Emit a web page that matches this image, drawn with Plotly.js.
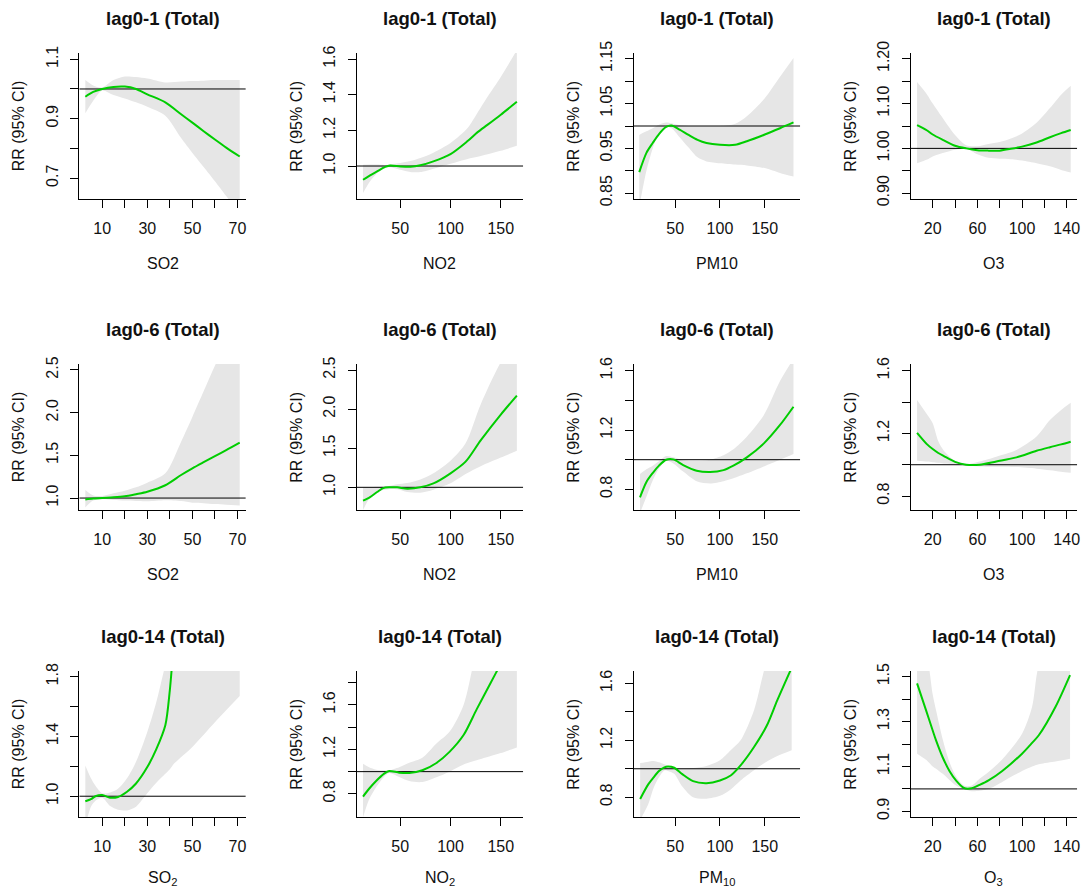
<!DOCTYPE html>
<html>
<head>
<meta charset="utf-8">
<script src="https://cdn.plot.ly/plotly-3.0.1.min.js"></script>
<style>
  html, body { margin: 0; padding: 0; background: #ffffff; }
  #chart { width: 1083px; height: 892px; }
</style>
</head>
<body>
<div id="chart"></div>
<script>
// Exposure-response curves (RR with 95% CI) by pollutant and cumulative lag.

// ---- lag0-1 ----
const so2_l1_x  = [2.5, 6, 10, 15, 20, 25, 30, 38, 45, 50, 55, 60, 65, 71];
const so2_l1_rr = [0.974, 0.990, 1.000, 1.007, 1.008, 1.000, 0.982, 0.955, 0.915, 0.887, 0.858, 0.830, 0.803, 0.773];
const so2_l1_hi = [1.030, 1.012, 1.005, 1.030, 1.042, 1.040, 1.035, 1.022, 1.025, 1.027, 1.028, 1.030, 1.030, 1.030];
const so2_l1_lo = [0.918, 0.960, 0.995, 0.980, 0.968, 0.955, 0.940, 0.910, 0.835, 0.785, 0.738, 0.690, 0.640, 0.580];

const no2_l1_x  = [13, 20, 27, 35, 40, 50, 60, 70, 83, 100, 117, 127, 137, 150, 166];
const no2_l1_rr = [0.923, 0.948, 0.970, 0.995, 1.003, 0.998, 0.996, 1.004, 1.026, 1.067, 1.140, 1.190, 1.232, 1.288, 1.360];
const no2_l1_hi = [1.007, 1.008, 1.008, 1.006, 1.010, 1.017, 1.028, 1.045, 1.075, 1.129, 1.213, 1.300, 1.390, 1.500, 1.650];
const no2_l1_lo = [0.849, 0.915, 0.960, 0.990, 0.993, 0.979, 0.967, 0.966, 0.985, 1.013, 1.040, 1.052, 1.066, 1.085, 1.114];

const pm_l1_x  = [10, 18, 25, 32, 40, 46, 55, 65, 75, 85, 100, 117, 130, 150, 167, 182];
const pm_l1_rr = [0.897, 0.940, 0.962, 0.982, 0.998, 1.001, 0.992, 0.980, 0.969, 0.962, 0.958, 0.958, 0.966, 0.981, 0.995, 1.008];
const pm_l1_hi = [0.980, 0.988, 0.995, 1.003, 1.008, 1.006, 1.002, 1.000, 1.000, 1.000, 1.000, 1.005, 1.022, 1.062, 1.110, 1.152];
const pm_l1_lo = [0.820, 0.900, 0.950, 0.985, 0.998, 0.995, 0.975, 0.952, 0.930, 0.921, 0.917, 0.914, 0.912, 0.906, 0.895, 0.887];

const o3_l1_x  = [6, 15, 20, 30, 40, 50, 60, 70, 80, 90, 100, 113, 125, 135, 143.6];
const o3_l1_rr = [1.052, 1.040, 1.031, 1.018, 1.006, 1.000, 0.996, 0.995, 0.995, 0.999, 1.004, 1.013, 1.025, 1.034, 1.041];
const o3_l1_hi = [1.148, 1.120, 1.100, 1.064, 1.030, 1.007, 1.005, 1.010, 1.014, 1.022, 1.033, 1.057, 1.090, 1.120, 1.140];
const o3_l1_lo = [0.967, 0.975, 0.982, 0.990, 0.997, 1.000, 0.987, 0.979, 0.977, 0.976, 0.973, 0.967, 0.960, 0.952, 0.946];

// ---- lag0-6 ----
const so2_l6_x  = [2.5, 6, 10, 15, 20, 25, 30, 38, 45, 50, 55, 60, 65, 71];
const so2_l6_rr = [0.984, 0.995, 1.002, 1.008, 1.020, 1.045, 1.074, 1.150, 1.270, 1.348, 1.420, 1.490, 1.560, 1.648];
const so2_l6_hi = [1.094, 1.030, 1.025, 1.055, 1.085, 1.125, 1.180, 1.290, 1.660, 1.950, 2.250, 2.550, 2.800, 3.050];
const so2_l6_lo = [0.890, 0.970, 0.985, 0.978, 0.970, 0.965, 0.963, 0.975, 0.965, 0.945, 0.940, 0.930, 0.922, 0.914];

const no2_l6_x  = [13, 20, 27, 33, 40, 47, 57, 70, 83, 100, 115, 130, 150, 166];
const no2_l6_rr = [0.829, 0.875, 0.940, 0.990, 1.000, 1.000, 0.983, 1.000, 1.050, 1.179, 1.328, 1.600, 1.930, 2.172];
const no2_l6_hi = [1.000, 1.003, 1.006, 1.010, 1.020, 1.040, 1.055, 1.100, 1.180, 1.340, 1.563, 2.060, 2.600, 2.900];
const no2_l6_lo = [0.710, 0.870, 0.940, 0.966, 0.979, 0.975, 0.940, 0.932, 0.970, 1.051, 1.170, 1.270, 1.380, 1.469];

const pm_l6_x  = [10.8, 18, 25, 32, 40, 48, 59, 74, 89, 104, 115, 130, 149, 167, 182];
const pm_l6_rr = [0.746, 0.850, 0.910, 0.960, 1.000, 1.002, 0.964, 0.926, 0.917, 0.930, 0.960, 1.016, 1.110, 1.234, 1.357];
const pm_l6_hi = [0.903, 0.935, 0.960, 0.990, 1.025, 1.016, 0.997, 0.993, 1.000, 1.030, 1.070, 1.155, 1.301, 1.530, 1.680];
const pm_l6_lo = [0.640, 0.750, 0.860, 0.940, 0.993, 0.975, 0.920, 0.855, 0.840, 0.855, 0.875, 0.908, 0.955, 1.000, 1.038];

const o3_l6_x  = [6, 15, 20, 25, 30, 40, 50, 62, 77, 95, 113, 125, 135, 143.6];
const o3_l6_rr = [1.204, 1.130, 1.100, 1.075, 1.055, 1.018, 1.000, 1.000, 1.021, 1.047, 1.089, 1.112, 1.130, 1.147];
const o3_l6_hi = [1.413, 1.320, 1.265, 1.150, 1.090, 1.025, 1.003, 1.020, 1.051, 1.094, 1.180, 1.285, 1.350, 1.396];
const o3_l6_lo = [1.026, 1.020, 1.016, 1.012, 1.008, 1.004, 0.996, 0.988, 0.987, 0.985, 0.975, 0.965, 0.955, 0.949];

// ---- lag0-14 ----
const so2_l14_x  = [2.5, 5, 7, 10, 13.5, 17, 21, 25, 30, 34, 38, 40, 42, 50, 60, 71];
const so2_l14_rr = [0.966, 0.980, 1.000, 1.008, 0.990, 0.995, 1.030, 1.085, 1.195, 1.315, 1.475, 1.710, 2.030, 2.700, 3.500, 4.500];
const so2_l14_hi = [1.206, 1.120, 1.070, 1.020, 1.025, 1.050, 1.120, 1.230, 1.430, 1.630, 1.880, 2.000, 2.150, 2.700, 3.400, 4.200];
const so2_l14_lo = [0.800, 0.930, 0.970, 0.990, 0.935, 0.910, 0.905, 0.930, 1.020, 1.090, 1.150, 1.180, 1.220, 1.330, 1.495, 1.670];

const no2_l14_x  = [13, 19, 26, 34, 39, 49, 59, 72, 86, 99, 113, 126, 140, 150, 166];
const no2_l14_rr = [0.776, 0.846, 0.916, 0.982, 1.006, 0.991, 0.988, 1.012, 1.078, 1.178, 1.329, 1.560, 1.800, 1.970, 2.250];
const no2_l14_hi = [1.072, 1.040, 1.018, 1.012, 1.012, 1.040, 1.080, 1.125, 1.253, 1.358, 1.600, 2.100, 2.500, 2.700, 3.000];
const no2_l14_lo = [0.590, 0.750, 0.860, 0.955, 0.988, 0.952, 0.915, 0.907, 0.950, 1.000, 1.065, 1.102, 1.140, 1.167, 1.217];

const pm_l14_x  = [11, 20, 26, 32, 38, 42, 49, 58, 70, 85, 100, 112, 123, 138, 152, 164, 180];
const pm_l14_rr = [0.788, 0.890, 0.940, 0.984, 1.010, 1.016, 1.007, 0.962, 0.913, 0.899, 0.918, 0.953, 1.024, 1.153, 1.300, 1.482, 1.710];
const pm_l14_hi = [1.040, 1.050, 1.054, 1.045, 1.031, 1.020, 1.005, 1.000, 1.005, 1.020, 1.060, 1.130, 1.200, 1.412, 1.750, 1.900, 2.000];
const pm_l14_lo = [0.640, 0.750, 0.865, 0.940, 0.988, 0.985, 0.965, 0.875, 0.800, 0.790, 0.810, 0.855, 0.918, 0.990, 1.050, 1.090, 1.130];

const o3_l14_x  = [6, 14, 20, 23, 29, 35, 41, 48, 55, 62, 70, 82, 100, 109, 115, 130, 143];
const o3_l14_rr = [1.470, 1.351, 1.260, 1.216, 1.140, 1.080, 1.037, 1.004, 1.003, 1.018, 1.038, 1.079, 1.157, 1.205, 1.239, 1.366, 1.507];
const o3_l14_hi = [1.650, 1.600, 1.420, 1.350, 1.220, 1.120, 1.055, 1.015, 1.015, 1.045, 1.075, 1.130, 1.246, 1.366, 1.550, 1.700, 1.750];
const o3_l14_lo = [1.157, 1.130, 1.100, 1.090, 1.067, 1.040, 1.015, 1.000, 0.990, 0.992, 1.000, 1.030, 1.080, 1.100, 1.110, 1.122, 1.134];

// Reference level (RR = 1)
const refRR = 1;

// ---- axis ticks ----
const so2Ticks = [10, 20, 30, 40, 50, 60, 70];
const so2Labels = ['10', '', '30', '', '50', '', '70'];
const no2Ticks = [50, 100, 150];
const no2Labels = ['50', '100', '150'];
const pmTicks = [50, 100, 150];
const pmLabels = ['50', '100', '150'];
const o3Ticks = [20, 40, 60, 80, 100, 120, 140];
const o3Labels = ['20', '', '60', '', '100', '', '140'];

const xTitlesPlain = ['SO2', 'NO2', 'PM10', 'O3'];
const xTitlesSub = ['SO<sub>2</sub>', 'NO<sub>2</sub>', 'PM<sub>10</sub>', 'O<sub>3</sub>'];
const lagTitles = ['lag0-1 (Total)', 'lag0-6 (Total)', 'lag0-14 (Total)'];
const yTitle = 'RR (95% CI)';

// ---- panel definitions (row-major) ----
const W = 1083, H = 892;
const colLeft = [79.3, 356.7, 633.7, 910.7];
const plotW = 166.5;
const rowTop = [53, 364, 671];
const plotH = 146;

const xSpec = [
  { range: [-0.17, 73.7], ticks: so2Ticks, labels: so2Labels },
  { range: [6.7, 172.3], ticks: no2Ticks, labels: no2Labels },
  { range: [3.8, 189.5], ticks: pmTicks, labels: pmLabels },
  { range: [0.3, 149.4], ticks: o3Ticks, labels: o3Labels }
];

const panels = [
  { x: so2_l1_x, rr: so2_l1_rr, lo: so2_l1_lo, hi: so2_l1_hi, yr: [0.630, 1.121],
    yt: [0.7, 0.8, 0.9, 1.0, 1.1], yl: ['0.7', '', '0.9', '', '1.1'] },
  { x: no2_l1_x, rr: no2_l1_rr, lo: no2_l1_lo, hi: no2_l1_hi, yr: [0.815, 1.634],
    yt: [1.0, 1.2, 1.4, 1.6], yl: ['1.0', '1.2', '1.4', '1.6'] },
  { x: pm_l1_x, rr: pm_l1_rr, lo: pm_l1_lo, hi: pm_l1_hi, yr: [0.837, 1.163],
    yt: [0.85, 0.90, 0.95, 1.00, 1.05, 1.10, 1.15], yl: ['0.85', '', '0.95', '', '1.05', '', '1.15'] },
  { x: o3_l1_x, rr: o3_l1_rr, lo: o3_l1_lo, hi: o3_l1_hi, yr: [0.887, 1.213],
    yt: [0.90, 0.95, 1.00, 1.05, 1.10, 1.15, 1.20], yl: ['0.90', '', '1.00', '', '1.10', '', '1.20'] },

  { x: so2_l6_x, rr: so2_l6_rr, lo: so2_l6_lo, hi: so2_l6_hi, yr: [0.86, 2.57],
    yt: [1.0, 1.5, 2.0, 2.5], yl: ['1.0', '1.5', '2.0', '2.5'] },
  { x: no2_l6_x, rr: no2_l6_rr, lo: no2_l6_lo, hi: no2_l6_hi, yr: [0.71, 2.577],
    yt: [1.0, 1.5, 2.0, 2.5], yl: ['1.0', '1.5', '2.0', '2.5'] },
  { x: pm_l6_x, rr: pm_l6_rr, lo: pm_l6_lo, hi: pm_l6_hi, yr: [0.661, 1.645],
    yt: [0.8, 1.0, 1.2, 1.4, 1.6], yl: ['0.8', '', '1.2', '', '1.6'] },
  { x: o3_l6_x, rr: o3_l6_rr, lo: o3_l6_lo, hi: o3_l6_hi, yr: [0.711, 1.643],
    yt: [0.8, 1.0, 1.2, 1.4, 1.6], yl: ['0.8', '', '1.2', '', '1.6'] },

  { x: so2_l14_x, rr: so2_l14_rr, lo: so2_l14_lo, hi: so2_l14_hi, yr: [0.861, 1.838],
    yt: [1.0, 1.2, 1.4, 1.6, 1.8], yl: ['1.0', '', '1.4', '', '1.8'] },
  { x: no2_l14_x, rr: no2_l14_rr, lo: no2_l14_lo, hi: no2_l14_hi, yr: [0.592, 1.905],
    yt: [0.8, 1.0, 1.2, 1.4, 1.6, 1.8], yl: ['0.8', '', '1.2', '', '1.6', ''] },
  { x: pm_l14_x, rr: pm_l14_rr, lo: pm_l14_lo, hi: pm_l14_hi, yr: [0.661, 1.687],
    yt: [0.8, 1.0, 1.2, 1.4, 1.6], yl: ['0.8', '', '1.2', '', '1.6'] },
  { x: o3_l14_x, rr: o3_l14_rr, lo: o3_l14_lo, hi: o3_l14_hi, yr: [0.875, 1.525],
    yt: [0.9, 1.0, 1.1, 1.2, 1.3, 1.4, 1.5], yl: ['0.9', '', '1.1', '', '1.3', '', '1.5'] }
];

const FONT = 'Liberation Sans, Arial, Helvetica, sans-serif';
const TXT = '#111111';
const BAND = '#e6e6e6';
const CURVE = '#00cd00';
const TICK_SIZE = 16;
const LABEL_SIZE = 16;

const traces = [];
const layout = {
  width: W, height: H,
  margin: { l: 0, r: 0, t: 0, b: 0 },
  paper_bgcolor: '#ffffff',
  plot_bgcolor: '#ffffff',
  showlegend: false,
  font: { family: FONT, color: TXT, size: TICK_SIZE },
  annotations: []
};

panels.forEach((p, i) => {
  const row = Math.floor(i / 4), col = i % 4;
  const n = i === 0 ? '' : String(i + 1);
  const xa = 'x' + n, ya = 'y' + n;
  const xs = xSpec[col];

  const l = colLeft[col], r = l + plotW;
  const t = rowTop[row], b = t + plotH;

  layout['xaxis' + n] = {
    domain: [l / W, r / W], anchor: ya, range: xs.range,
    tickmode: 'array', tickvals: xs.ticks, ticktext: xs.labels,
    showline: true, linecolor: '#000', linewidth: 1, mirror: false,
    ticks: 'outside', ticklen: 8, tickwidth: 1, tickcolor: '#000',
    showgrid: false, zeroline: false, fixedrange: true,
    tickfont: { family: FONT, size: TICK_SIZE, color: TXT },
    ticklabelstandoff: 7
  };
  layout['yaxis' + n] = {
    domain: [1 - b / H, 1 - t / H], anchor: xa, range: p.yr,
    tickmode: 'array', tickvals: p.yt, ticktext: p.yl, tickangle: -90,
    showline: true, linecolor: '#000', linewidth: 1, mirror: false,
    ticks: 'outside', ticklen: 8, tickwidth: 1, tickcolor: '#000',
    showgrid: false, zeroline: false, fixedrange: true,
    tickfont: { family: FONT, size: TICK_SIZE, color: TXT },
    ticklabelstandoff: 6
  };

  // confidence band
  traces.push({
    type: 'scatter', mode: 'lines', x: p.x, y: p.hi, xaxis: xa, yaxis: ya,
    line: { width: 0, shape: 'spline', smoothing: 0.8, color: BAND },
    hoverinfo: 'skip'
  });
  traces.push({
    type: 'scatter', mode: 'lines', x: p.x, y: p.lo, xaxis: xa, yaxis: ya,
    line: { width: 0, shape: 'spline', smoothing: 0.8, color: BAND },
    fill: 'tonexty', fillcolor: BAND, hoverinfo: 'skip'
  });
  // reference line at RR = 1
  traces.push({
    type: 'scatter', mode: 'lines', x: xs.range, y: [refRR, refRR], xaxis: xa, yaxis: ya,
    line: { width: 1, color: '#000' }, hoverinfo: 'skip'
  });
  // estimated RR curve
  traces.push({
    type: 'scatter', mode: 'lines', x: p.x, y: p.rr, xaxis: xa, yaxis: ya,
    line: { width: 2, shape: 'spline', smoothing: 0.8, color: CURVE },
    hoverinfo: 'skip'
  });

  // panel title
  layout.annotations.push({
    xref: xa + ' domain', yref: ya + ' domain', x: 0.5, y: 1,
    xanchor: 'center', yanchor: 'middle', yshift: 35, showarrow: false,
    text: '<b>' + lagTitles[row] + '</b>',
    font: { family: FONT, size: 18.5, color: TXT }
  });
  // x-axis title
  layout.annotations.push({
    xref: xa + ' domain', yref: ya + ' domain', x: 0.5, y: 0,
    xanchor: 'center', yanchor: 'middle', yshift: row === 2 ? -61 : -64, showarrow: false,
    text: row === 2 ? xTitlesSub[col] : xTitlesPlain[col],
    font: { family: FONT, size: LABEL_SIZE, color: TXT }
  });
  // y-axis title
  layout.annotations.push({
    xref: xa + ' domain', yref: ya + ' domain', x: 0, y: 0.5,
    xanchor: 'center', yanchor: 'middle', xshift: -61, textangle: -90, showarrow: false,
    text: yTitle,
    font: { family: FONT, size: LABEL_SIZE, color: TXT }
  });
});

Plotly.newPlot('chart', traces, layout, { staticPlot: true, displayModeBar: false });
</script>
</body>
</html>
